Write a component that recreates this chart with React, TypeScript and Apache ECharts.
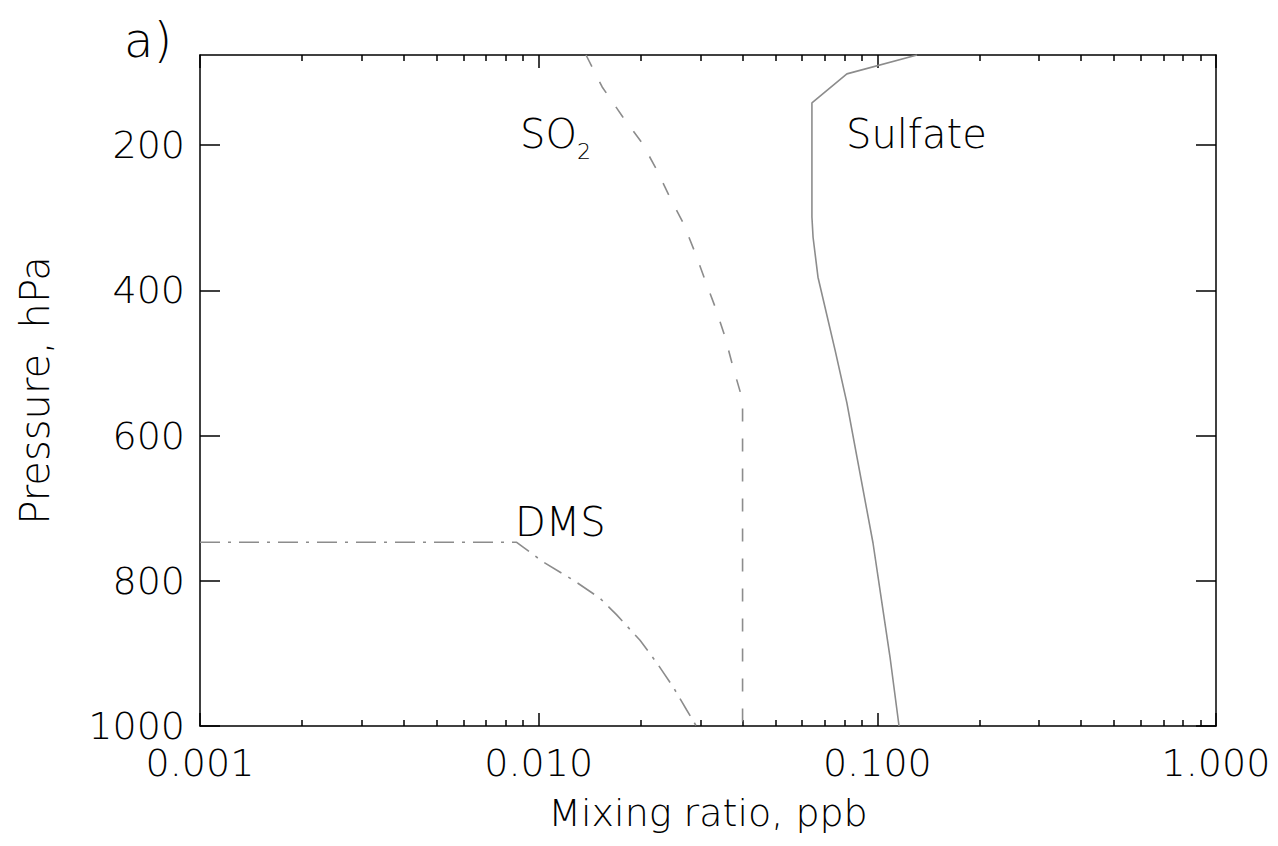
import React, { useEffect, useRef } from "react";
import * as echarts from "echarts";

// Vertical profiles: pressure (hPa) against mixing ratio (ppb)
const sulfatePressure = [76, 102, 142, 299, 327, 382, 482, 555, 630, 748, 840, 905, 1000];
const sulfateRatio = [0.131, 0.0813, 0.0641, 0.0641, 0.0646, 0.0668, 0.075, 0.0813, 0.0871, 0.0971, 0.1039, 0.109, 0.1159];

const so2Pressure = [76, 120, 161, 197, 234, 272, 307, 347, 386, 423, 464, 506, 551, 1000];
const so2Ratio = [0.0138, 0.0154, 0.0177, 0.0202, 0.0223, 0.0244, 0.0267, 0.0289, 0.031, 0.0332, 0.0355, 0.0375, 0.04, 0.04];

const dmsPressure = [747, 747, 774, 799, 824, 847, 882, 913, 946, 978, 1000];
const dmsRatio = [0.001, 0.00861, 0.0103, 0.01264, 0.01517, 0.017, 0.01992, 0.02232, 0.02493, 0.02736, 0.0292];

// Axis ticks
const pressureTicks = [200, 400, 600, 800, 1000];
const ratioMinorTicks = [
  0.002, 0.003, 0.004, 0.005, 0.006, 0.007, 0.008, 0.009,
  0.02, 0.03, 0.04, 0.05, 0.06, 0.07, 0.08, 0.09,
  0.2, 0.3, 0.4, 0.5, 0.6, 0.7, 0.8, 0.9,
];

const FONT = "'DejaVu Sans', sans-serif";
const INK = "#000";
const LINE = "#8c8c8c";

const pairs = (xs: number[], ys: number[]) => xs.map((x, i) => [x, ys[i]]);

export default function App() {
  const ref = useRef<HTMLDivElement>(null);

  useEffect(() => {
    if (!ref.current) return;
    const chart = echarts.init(ref.current, null, { renderer: "svg" });

    const axisLine = { show: true, onZero: false, lineStyle: { color: INK, width: 1.5 } };
    const tickStyle = { color: INK, width: 1.5 };
    const labelFont = { fontSize: 38, fontFamily: FONT, fontWeight: 200, color: INK };

    const logBase = { type: "log" as const, logBase: 10, min: 0.001, max: 1, splitLine: { show: false }, gridIndex: 0 };
    const yBase = { type: "value" as const, inverse: true, min: 76, max: 1000, splitLine: { show: false }, gridIndex: 0 };

    chart.setOption({
      animation: false,
      backgroundColor: "#fff",
      grid: { left: 200, right: 62, top: 55, bottom: 120, containLabel: false },
      xAxis: [
        {
          ...logBase,
          position: "bottom",
          axisLine,
          axisTick: { show: true, inside: true, length: 13, lineStyle: tickStyle },
          axisLabel: { ...labelFont, margin: 18, formatter: (v: number) => v.toFixed(3) },
          name: "Mixing ratio, ppb",
          nameLocation: "middle",
          nameGap: 68,
          nameTextStyle: { ...labelFont },
        },
        {
          ...logBase,
          position: "bottom",
          axisLine: { show: false },
          axisLabel: { show: false },
          axisTick: { show: true, inside: true, length: 6, customValues: ratioMinorTicks, lineStyle: tickStyle },
        },
        {
          ...logBase,
          position: "top",
          axisLine,
          axisLabel: { show: false },
          axisTick: { show: true, inside: true, length: 13, lineStyle: tickStyle },
        },
        {
          ...logBase,
          position: "top",
          axisLine: { show: false },
          axisLabel: { show: false },
          axisTick: { show: true, inside: true, length: 6, customValues: ratioMinorTicks, lineStyle: tickStyle },
        },
      ],
      yAxis: [
        {
          ...yBase,
          position: "left",
          axisLine,
          axisTick: { show: true, inside: true, length: 20, customValues: pressureTicks, lineStyle: tickStyle },
          axisLabel: { ...labelFont, margin: 15, customValues: pressureTicks, formatter: (v: number) => String(v) },
          name: "Pressure, hPa",
          nameLocation: "middle",
          nameRotate: 90,
          nameGap: 145,
          nameTextStyle: { ...labelFont, fontSize: 40 },
        },
        {
          ...yBase,
          position: "right",
          axisLine,
          axisLabel: { show: false },
          axisTick: { show: true, inside: true, length: 20, customValues: pressureTicks, lineStyle: tickStyle },
        },
      ],
      series: [
        {
          name: "Sulfate",
          type: "line",
          xAxisIndex: 0,
          yAxisIndex: 0,
          data: pairs(sulfateRatio, sulfatePressure),
          showSymbol: false,
          symbol: "none",
          lineStyle: { color: LINE, width: 1.6, type: "solid" },
        },
        {
          name: "SO2",
          type: "line",
          xAxisIndex: 0,
          yAxisIndex: 0,
          data: pairs(so2Ratio, so2Pressure),
          showSymbol: false,
          symbol: "none",
          lineStyle: { color: LINE, width: 1.6, type: [13, 17] },
        },
        {
          name: "DMS",
          type: "line",
          xAxisIndex: 0,
          yAxisIndex: 0,
          data: pairs(dmsRatio, dmsPressure),
          showSymbol: false,
          symbol: "none",
          lineStyle: { color: LINE, width: 1.6, type: [20, 8, 3, 8] },
        },
      ],
      graphic: [
        { type: "text", x: 124, y: 40, style: { text: "a)", fontSize: 48, fontFamily: FONT, fontWeight: 200, fill: INK, verticalAlign: "middle" } },
        { type: "text", x: 520, y: 134, style: { text: "SO", fontSize: 40, fontFamily: FONT, fontWeight: 200, fill: INK, verticalAlign: "middle" } },
        { type: "text", x: 577, y: 151, style: { text: "2", fontSize: 22, fontFamily: FONT, fontWeight: 200, fill: INK, verticalAlign: "middle" } },
        { type: "text", x: 846, y: 134, style: { text: "Sulfate", fontSize: 40, fontFamily: FONT, fontWeight: 200, fill: INK, verticalAlign: "middle" } },
        { type: "text", x: 515, y: 522, style: { text: "DMS", fontSize: 40, fontFamily: FONT, fontWeight: 200, fill: INK, verticalAlign: "middle" } },
      ],
    });

    return () => chart.dispose();
  }, []);

  return (
    <div
      ref={ref}
      style={{ position: "fixed", left: 0, top: 0, width: 1278, height: 846, background: "#fff" }}
    />
  );
}
